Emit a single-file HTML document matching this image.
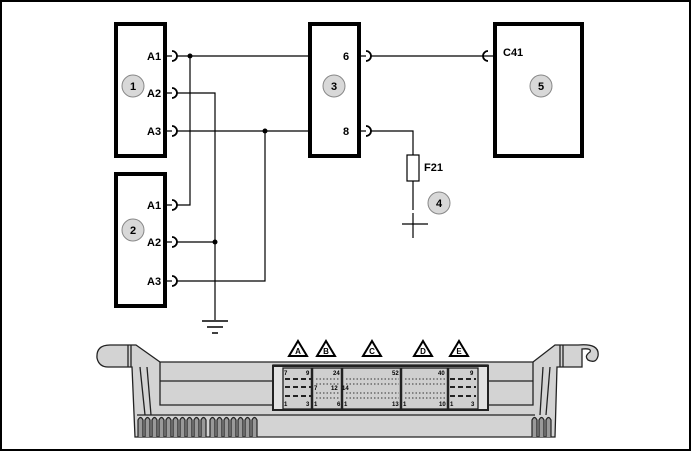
<!DOCTYPE html>
<html><head><meta charset="utf-8"><style>
html,body{margin:0;padding:0;background:#fff}
svg{display:block}
text{font-family:"Liberation Sans",Arial,sans-serif;font-weight:bold;fill:#000}
</style></head><body>
<svg width="691" height="451" viewBox="0 0 691 451" xmlns="http://www.w3.org/2000/svg">
<rect x="1" y="1" width="689" height="449" fill="#fff" stroke="#000" stroke-width="2"/>
<g fill="#fff" stroke="#000" stroke-width="4">
<rect x="116" y="24" width="49" height="132"/>
<rect x="116" y="174" width="49" height="132"/>
<rect x="310" y="24" width="49" height="132"/>
<rect x="495" y="24" width="87" height="132"/>
</g>
<g fill="none" stroke="#000" stroke-width="1.2">
<path d="M165 56H172M165 93H172M165 131H172M165 205H172M165 242H172M165 281H172M359 56H366M359 131H366M488 56H495"/>
<path d="M172 51a5 5 0 0 1 0 10M172 88a5 5 0 0 1 0 10M172 126a5 5 0 0 1 0 10M172 200a5 5 0 0 1 0 10M172 237a5 5 0 0 1 0 10M172 276a5 5 0 0 1 0 10M366 51a5 5 0 0 1 0 10M366 126a5 5 0 0 1 0 10" stroke-width="1.8"/>
<path d="M488 51a5 5 0 0 0 0 10" stroke-width="1.8"/>
<path d="M177 56H310M190 56V205H177M177 93H215V320M177 242H215M177 131H310M265 131V281H177"/>
<path d="M371 56H488M371 131H413V155M413 181V210M413 213V238M402 224H428"/>
<rect x="407" y="155" width="12" height="26" fill="#fff"/>
<path d="M202 321H228M207 327H223M212 333H218" stroke-width="1.5"/>
</g>
<circle cx="190" cy="56" r="2.5"/><circle cx="265" cy="131" r="2.5"/><circle cx="215" cy="242" r="2.5"/>
<g font-size="11">
<text x="147" y="60">A1</text><text x="147" y="97">A2</text><text x="147" y="135">A3</text>
<text x="147" y="209">A1</text><text x="147" y="246">A2</text><text x="147" y="285">A3</text>
<text x="343" y="60">6</text><text x="343" y="135">8</text>
<text x="503" y="56">C41</text><text x="424" y="171">F21</text>
</g>
<g fill="#d8d8d8" stroke="#888" stroke-width="1">
<circle cx="133" cy="86" r="11"/><circle cx="133" cy="230" r="11"/><circle cx="334" cy="86" r="11"/><circle cx="439" cy="203" r="11"/><circle cx="541" cy="86" r="11"/>
</g>
<g font-size="11" text-anchor="middle">
<text x="133" y="90">1</text><text x="133" y="234">2</text><text x="334" y="90">3</text><text x="439" y="207">4</text><text x="541" y="90">5</text>
</g>
<!-- ECU -->
<g stroke="#222" stroke-width="1.3" fill="#d3d3d3">
<path d="M110 345H136L160 362H533L555 345H578 Q600 343 598 356 Q596 364 588 360 Q584 356 590 352 Q592 348 582 349 V367 H557 L555 437 H135 L132 367 H108 Q99 367 97 358 Q96 345 110 345Z"/>
<path d="M160 362V405H273V365H488V405H533V362" fill="none"/>
<path d="M160 381H273M488 381H533" fill="none"/>
<path d="M137 415H535" fill="none"/>
<path d="M140 367L145 415M147 367L151 415M550 367L546 415M543 367L540 415" fill="none"/>
<rect x="273" y="366" width="215" height="44" fill="#e2e2e2" stroke-width="2"/>
<rect x="283" y="368" width="195" height="41" fill="#cfcfcf"/>
<path d="M312 368V409M342 368V409M401 368V409M448 368V409" stroke-width="2.5"/>
<path d="M128 345V367M131 345V367M560 345V367M563 345V367" fill="none"/>
</g>
<g stroke="#222" stroke-width="1.2" fill="#999">
<path d="M138 437V420q2.5-5 5 0V437M145 437V420q2.5-5 5 0V437M152 437V420q2.5-5 5 0V437M159 437V420q2.5-5 5 0V437M166 437V420q2.5-5 5 0V437M173 437V420q2.5-5 5 0V437M180 437V420q2.5-5 5 0V437M187 437V420q2.5-5 5 0V437M194 437V420q2.5-5 5 0V437M201 437V420q2.5-5 5 0V437M210 437V420q2.5-5 5 0V437M217 437V420q2.5-5 5 0V437M224 437V420q2.5-5 5 0V437M231 437V420q2.5-5 5 0V437M238 437V420q2.5-5 5 0V437M245 437V420q2.5-5 5 0V437M252 437V420q2.5-5 5 0V437M532 437V420q2.5-5 5 0V437M539 437V420q2.5-5 5 0V437M546 437V420q2.5-5 5 0V437"/>
</g>
<g stroke="#555" stroke-width="1.3" stroke-dasharray="1.5 2">
<path d="M316 379H340M316 384H340M316 393H340M316 398H340M346 379H399M346 384H399M346 393H399M346 398H399M405 379H446M405 384H446M405 393H446M405 398H446"/>
</g>
<g stroke="#222" stroke-width="2" stroke-dasharray="5 3">
<path d="M285 379H311M285 387H311M285 396H311M450 379H476M450 387H476M450 396H476"/>
</g>
<g font-size="6">
<text x="284" y="375">7</text><text x="306" y="375">9</text><text x="284" y="406">1</text><text x="306" y="406">3</text>
<text x="333" y="375">24</text><text x="314" y="390">7</text><text x="331" y="390">12</text><text x="314" y="406">1</text><text x="337" y="406">6</text>
<text x="342" y="390">14</text><text x="392" y="375">52</text><text x="344" y="406">1</text><text x="392" y="406">13</text>
<text x="438" y="375">40</text><text x="403" y="406">1</text><text x="439" y="406">10</text>
<text x="470" y="375">9</text><text x="450" y="406">1</text><text x="471" y="406">3</text>
</g>
<g fill="#fff" stroke="#000" stroke-width="2">
<path d="M298 341L307 356H289Z"/><path d="M326 341L335 356H317Z"/><path d="M372 341L381 356H363Z"/><path d="M423 341L432 356H414Z"/><path d="M459 341L468 356H450Z"/>
</g>
<g font-size="8" text-anchor="middle">
<text x="298" y="354">A</text><text x="326" y="354">B</text><text x="372" y="354">C</text><text x="423" y="354">D</text><text x="459" y="354">E</text>
</g>
</svg>
</body></html>
